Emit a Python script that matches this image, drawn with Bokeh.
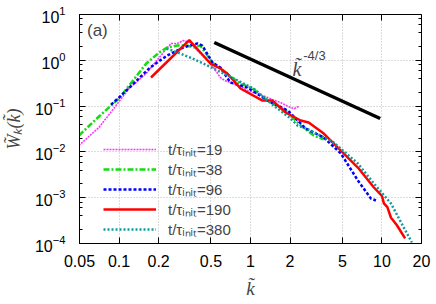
from bokeh.plotting import figure
from bokeh.models import (FixedTicker, LogAxis, Legend, LegendItem, Label,
                          CustomJSTickFormatter)
from bokeh.embed import file_html
from bokeh.resources import INLINE

# ---- data ----
k19 = [0.0495, 0.0703, 0.0949, 0.119, 0.161, 0.202, 0.224, 0.249, 0.277, 0.308,
       0.348, 0.394, 0.495, 0.541, 0.590, 0.64, 0.742, 0.85, 0.948, 1.1, 1.35,
       1.5, 1.69, 1.85, 2.02, 2.15, 2.32]
W19 = [0.0138, 0.0341, 0.103, 0.242, 0.515, 1.15, 1.64, 2.33, 2.33, 2.70,
       2.45, 1.64, 0.895, 0.599, 0.421, 0.36, 0.311, 0.27, 0.219, 0.19, 0.154,
       0.135, 0.120, 0.105, 0.093, 0.088, 0.098]

k38 = [0.0495, 0.0703, 0.1, 0.161, 0.202, 0.232, 0.277, 0.330, 0.367, 0.415,
       0.513, 0.667, 0.839, 1.035, 1.35, 1.85, 2.41, 3.03, 3.61]
W38 = [0.0228, 0.0593, 0.147, 0.851, 1.48, 1.90, 2.10, 2.10, 1.90, 2.10,
       0.895, 0.490, 0.311, 0.242, 0.132, 0.080, 0.0377, 0.0228, 0.0187]

k96 = [0.0869, 0.1, 0.1725, 0.232, 0.308, 0.394, 0.430, 0.513, 0.590, 0.703,
       0.948, 1.35, 1.92, 2.63, 3.61, 4.87, 6.56, 8.24, 9.00]
W96 = [0.108, 0.154, 0.696, 1.27, 1.90, 2.33, 2.10, 0.895, 0.696, 0.327,
       0.255, 0.132, 0.080, 0.0324, 0.0206, 0.00923, 0.00238, 0.00096, 0.00087]

k190 = [0.175, 0.342, 0.495, 0.590, 0.667, 0.839, 1.235, 1.47, 1.85, 2.41,
        2.77, 3.61, 4.87, 6.56, 8.69, 10.0, 10.35, 11.0, 11.7, 13.0, 15.0]
W190 = [0.421, 2.75, 0.851, 0.662, 0.515, 0.242, 0.132, 0.132, 0.0725, 0.0485,
        0.0438, 0.0252, 0.0107, 0.00456, 0.00167, 0.0011, 0.00075, 0.00062,
        0.00037, 0.00025, 0.000129]

k380 = [0.23, 0.277, 0.348, 0.438, 0.541, 0.742, 1.055, 1.50, 2.02, 2.28,
        2.87, 4.30, 6.56, 8.69, 11.7, 16.9]
W380 = [1.80, 1.50, 1.15, 0.851, 0.630, 0.401, 0.242, 0.103, 0.0536, 0.0377,
        0.0293, 0.0160, 0.00558, 0.00204, 0.00075, 0.000105]

kref = [0.53, 9.7]
Wref = [2.45, 0.0536]

series_labels = ["t/τᵢₙᵢₜ=19", "t/τᵢₙᵢₜ=38", "t/τᵢₙᵢₜ=96", "t/τᵢₙᵢₜ=190", "t/τᵢₙᵢₜ=380"]

xticks = [0.05, 0.1, 0.2, 0.5, 1, 2, 5, 10, 20]
yticks = [1e-4, 1e-3, 1e-2, 1e-1, 1, 10]
yminor = [m * d for d in [1e-4, 1e-3, 1e-2, 1e-1, 1] for m in (2, 4, 6, 8)]
x_lo, x_hi = 0.05, 20
y_lo, y_hi = 1e-4, 10

# ---- figure ----
p = figure(width=436, height=304, x_axis_type="log", y_axis_type="log",
           x_range=(x_lo, x_hi), y_range=(y_lo, y_hi),
           output_backend="svg", toolbar_location=None,
           min_border_left=79, min_border_right=15, min_border_top=14,
           min_border_bottom=61)
p.outline_line_color = "black"
p.outline_line_width = 1
p.background_fill_color = "white"

xt = FixedTicker(ticks=xticks)
yt = FixedTicker(ticks=yticks, minor_ticks=yminor)
p.xaxis.ticker = xt
p.yaxis.ticker = yt
p.xaxis.formatter = CustomJSTickFormatter(code="return String(tick);")

for ax in (p.xaxis[0], p.yaxis[0]):
    ax.major_tick_in = 6
    ax.major_tick_out = 0
    ax.minor_tick_in = 3
    ax.minor_tick_out = 0
    ax.axis_line_color = "black"
    ax.major_tick_line_color = "black"
    ax.minor_tick_line_color = "black"
    ax.major_label_text_font = "Liberation Sans"
    ax.major_label_text_color = "black"

p.xaxis.major_label_text_font_size = "16px"
p.xaxis.major_label_standoff = 11
p.yaxis.major_label_text_font_size = "16px"
p.yaxis.major_label_standoff = 14

p.xaxis.axis_label = "k̃"
p.xaxis.axis_label_text_font = "Liberation Serif"
p.xaxis.axis_label_text_font_style = "italic"
p.xaxis.axis_label_text_font_size = "19px"
p.xaxis.axis_label_standoff = 8

p.yaxis.axis_label = "W̃ₖ(k̃)"
p.yaxis.axis_label_text_font = "Liberation Serif"
p.yaxis.axis_label_text_font_style = "italic"
p.yaxis.axis_label_text_font_size = "18px"
p.yaxis.axis_label_standoff = 8

blank = CustomJSTickFormatter(code="return '';")
top = LogAxis(ticker=xt, formatter=blank, fixed_location=y_hi,
              major_label_standoff=0, major_label_text_font_size="1px",
              major_tick_in=6, major_tick_out=0, minor_tick_in=0, minor_tick_out=0,
              axis_line_color="black")
right = LogAxis(ticker=yt, formatter=blank, fixed_location=x_hi,
                major_label_standoff=0, major_label_text_font_size="1px",
                major_tick_in=6, major_tick_out=0, minor_tick_in=3, minor_tick_out=0,
                axis_line_color="black")
p.add_layout(top, "above")
p.add_layout(right, "right")

for g in (p.xgrid[0], p.ygrid[0]):
    g.grid_line_color = "#b8b8b8"
    g.grid_line_dash = "1 2"
    g.grid_line_width = 1

r19 = p.line(k19, W19, line_color="#ff33ff", line_width=1.6, line_dash="2 1")
r38 = p.line(k38, W38, line_color="#11dd11", line_width=2.5, line_dash="6 2 2 2")
r96 = p.line(k96, W96, line_color="#0000ff", line_width=2.5, line_dash="3 2")
r190 = p.line(k190, W190, line_color="#ff0000", line_width=2.5)
r380 = p.line(k380, W380, line_color="#119a9a", line_width=2.5, line_dash="2 2")
p.line(kref, Wref, line_color="black", line_width=3.5)

legend = Legend(items=[LegendItem(label=l, renderers=[r]) for l, r in
                       zip(series_labels, [r19, r38, r96, r190, r380])],
                location=(24, 4), padding=0, margin=0, spacing=0,
                label_height=20, glyph_height=20, glyph_width=53,
                label_standoff=12, background_fill_alpha=0,
                border_line_alpha=0, label_text_font_size="15px",
                label_text_font="Liberation Sans")
p.add_layout(legend)

p.add_layout(Label(x=0.057, y=4.47, text="(a)", text_font="Liberation Sans",
                   text_font_size="17px", text_baseline="middle"))
p.add_layout(Label(x=2.09, y=0.662, text="k̃", text_font="Liberation Serif",
                   text_font_style="italic", text_font_size="20px",
                   text_baseline="alphabetic"))
p.add_layout(Label(x=2.52, y=1.27, text="-4/3", text_font="Liberation Sans",
                   text_font_size="13px", text_baseline="middle"))

open("out.html", "w").write(file_html(p, INLINE))
